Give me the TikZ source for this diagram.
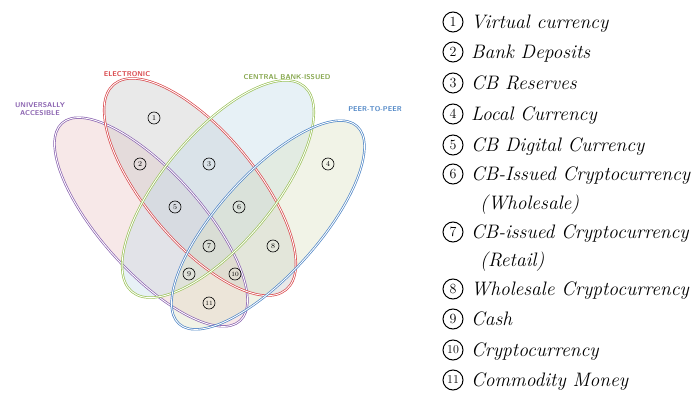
\documentclass[tikz,border=0pt]{standalone}
\usepackage{xcolor}
\definecolor{cred}{HTML}{D9474B}
\definecolor{cgreen}{HTML}{9CC35A}
\definecolor{cblue}{HTML}{4F86C6}
\definecolor{cpurple}{HTML}{8A62B0}
\definecolor{fred}{HTML}{C8C8C8}
\definecolor{fgreen}{HTML}{C4DCEA}
\definecolor{fblue}{HTML}{DCE2C4}
\definecolor{fpurple}{HTML}{EBC6C6}
\begin{document}
\begin{tikzpicture}[x=1pt,y=-1pt,
  setfill/.style={fill opacity=0.4},
  setline/.style={line width=0.7pt, double=white, double distance=0.9pt},
  vnum/.style={circle, draw, line width=0.6pt, inner sep=0pt, minimum size=12pt, font=\fontsize{7.5}{7.5}\selectfont},
  lnum/.style={circle, draw, line width=1pt, inner sep=0pt, minimum size=20pt, font=\fontsize{14}{14}\selectfont},
  ltext/.style={anchor=base west, inner sep=0pt, font=\fontsize{19.5}{19.5}\selectfont\itshape},
  setlabel/.style={font=\fontsize{7}{8}\selectfont\sffamily\bfseries, align=center}]
\useasboundingbox[fill=white] (0,0) rectangle (694,396);
% fills
\begin{scope}[shift={(151,222)}, rotate=-48]
  \fill[fpurple, setfill] (0,0) ellipse [x radius=133pt, y radius=50pt];
\end{scope}
\begin{scope}[shift={(200,187)}, rotate=-50]
  \fill[fred, setfill] (0,0) ellipse [x radius=134pt, y radius=55pt];
\end{scope}
\begin{scope}[shift={(218,189)}, rotate=50]
  \fill[fgreen, setfill] (0,0) ellipse [x radius=134pt, y radius=55pt];
\end{scope}
\begin{scope}[shift={(268,225)}, rotate=48]
  \fill[fblue, setfill] (0,0) ellipse [x radius=133pt, y radius=50pt];
\end{scope}
% outlines
\begin{scope}[shift={(151,222)}, rotate=-48]
  \draw[cpurple, setline] (0,0) ellipse [x radius=133pt, y radius=50pt];
\end{scope}
\begin{scope}[shift={(200,187)}, rotate=-50]
  \draw[cred, setline] (0,0) ellipse [x radius=134pt, y radius=55pt];
\end{scope}
\begin{scope}[shift={(218,189)}, rotate=50]
  \draw[cgreen, setline] (0,0) ellipse [x radius=134pt, y radius=55pt];
\end{scope}
\begin{scope}[shift={(268,225)}, rotate=48]
  \draw[cblue, setline] (0,0) ellipse [x radius=133pt, y radius=50pt];
\end{scope}
% set labels
\node[setlabel, text=cred] (lelec) at (127,74) {ELECTRONIC};
\node[setlabel, text=cgreen!85!black] (lcb) at (287,77) {CENTRAL BANK-ISSUED};
\node[setlabel, text=cpurple] (luni) at (40,109) {UNIVERSALLY\\ACCESIBLE};
\node[setlabel, text=cblue] (lp2p) at (375,109) {PEER-TO-PEER};
% region numbers
\node[vnum] (n1) at (154,118) {1};
\node[vnum] (n2) at (140,164) {2};
\node[vnum] (n3) at (209,164) {3};
\node[vnum] (n4) at (328,164) {4};
\node[vnum] (n5) at (175,207) {5};
\node[vnum] (n6) at (239,207) {6};
\node[vnum] (n7) at (209,246) {7};
\node[vnum] (n8) at (273,246) {8};
\node[vnum] (n9) at (189,274) {9};
\node[vnum, font=\fontsize{6.5}{6.5}\selectfont] (n10) at (235,274) {10};
\node[vnum, font=\fontsize{6.5}{6.5}\selectfont] (n11) at (209,303) {11};
% legend
\node[lnum] (l1) at (453,22) {1};
\node[ltext] (t1) at (471,28.5) {Virtual currency};
\node[lnum] (l2) at (453,52) {2};
\node[ltext] (t2) at (471,58.5) {Bank Deposits};
\node[lnum] (l3) at (453,83) {3};
\node[ltext] (t3) at (471,89.5) {CB Reserves};
\node[lnum] (l4) at (453,114) {4};
\node[ltext] (t4) at (471,120.5) {Local Currency};
\node[lnum] (l5) at (453,145) {5};
\node[ltext] (t5) at (471,151.5) {CB Digital Currency};
\node[lnum] (l6) at (453,174) {6};
\node[ltext] (t6) at (471,180.5) {CB-Issued Cryptocurrency};
\node[ltext] (t6b) at (480,209.5) {(Wholesale)};
\node[lnum] (l7) at (453,232) {7};
\node[ltext] (t7) at (471,238.5) {CB-issued Cryptocurrency};
\node[ltext] (t7b) at (480,266.5) {(Retail)};
\node[lnum] (l8) at (453,289) {8};
\node[ltext] (t8) at (471,295.5) {Wholesale Cryptocurrency};
\node[lnum] (l9) at (453,319) {9};
\node[ltext] (t9) at (471,325.5) {Cash};
\node[lnum, font=\fontsize{12}{12}\selectfont] (l10) at (453,350) {10};
\node[ltext] (t10) at (471,356.5) {Cryptocurrency};
\node[lnum, font=\fontsize{12}{12}\selectfont] (l11) at (453,380) {11};
\node[ltext] (t11) at (471,386.5) {Commodity Money};
\end{tikzpicture}
\end{document}
